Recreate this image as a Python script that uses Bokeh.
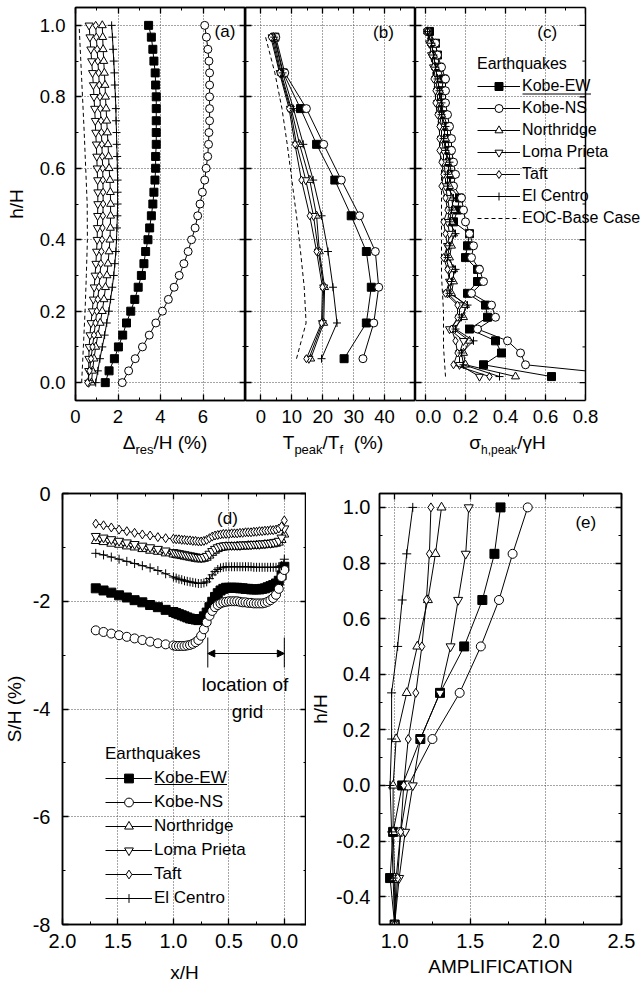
from bokeh.plotting import figure
from bokeh.layouts import row, column
from bokeh.models import (Range1d, LinearAxis, FixedTicker, PrintfTickFormatter,
                          CustomJSTickFormatter, CustomLabelingPolicy, Label, Legend,
                          LegendItem, Arrow, NormalHead, BoxAnnotation, Span, Div, Spacer)
from bokeh.embed import file_html
from bokeh.resources import INLINE

FONT = "Liberation Sans"

# ----------------------------------------------------------------- data
quakes = ["Kobe-EW", "Kobe-NS", "Northridge", "Loma Prieta", "Taft", "El Centro"]
markers = {"Kobe-EW": "square", "Kobe-NS": "circle", "Northridge": "triangle",
           "Loma Prieta": "inverted_triangle", "Taft": "diamond", "El Centro": "cross"}

# (a) residual wall displacement  Delta_res/H (%) against height h/H
h_a = [0.000, 0.033, 0.067, 0.100, 0.133, 0.167, 0.200, 0.233, 0.267, 0.300, 0.333,
       0.367, 0.400, 0.433, 0.467, 0.500, 0.533, 0.567, 0.600, 0.633, 0.667, 0.700,
       0.733, 0.767, 0.800, 0.833, 0.867, 0.900, 0.933, 0.967, 1.000]
a_kobe_ew = [1.40, 1.58, 1.83, 2.02, 2.22, 2.40, 2.60, 2.79, 2.95, 3.10, 3.22, 3.30, 3.41,
             3.49, 3.57, 3.64, 3.69, 3.74, 3.77, 3.77, 3.80, 3.80, 3.80, 3.80, 3.80, 3.77,
             3.75, 3.69, 3.64, 3.57, 3.44]
a_kobe_ns = [2.20, 2.50, 2.81, 3.15, 3.47, 3.78, 4.09, 4.37, 4.64, 4.88, 5.10, 5.30, 5.46,
             5.63, 5.75, 5.86, 5.97, 6.08, 6.15, 6.22, 6.26, 6.28, 6.31, 6.31, 6.31, 6.31,
             6.31, 6.28, 6.23, 6.16, 6.08]
a_northridge = [0.75, 0.80, 0.87, 0.95, 1.05, 1.16, 1.26, 1.34, 1.41, 1.48, 1.53, 1.58, 1.62,
                1.64, 1.65, 1.65, 1.64, 1.62, 1.58, 1.56, 1.53, 1.50, 1.47, 1.44, 1.41, 1.39,
                1.36, 1.33, 1.30, 1.28, 1.26]
a_loma = [0.62, 0.62, 0.63, 0.64, 0.68, 0.73, 0.79, 0.84, 0.88, 0.92, 0.96, 0.99, 1.02,
          1.03, 1.04, 1.05, 1.05, 1.04, 1.02, 1.00, 0.98, 0.95, 0.93, 0.90, 0.87, 0.84,
          0.80, 0.76, 0.72, 0.68, 0.64]
a_taft = [0.56, 0.66, 0.73, 0.80, 0.87, 0.94, 1.00, 1.05, 1.10, 1.15, 1.19, 1.22, 1.25,
          1.27, 1.29, 1.30, 1.30, 1.29, 1.28, 1.26, 1.24, 1.22, 1.20, 1.17, 1.15, 1.12,
          1.09, 1.05, 1.02, 0.98, 0.95]
a_elcentro = [0.95, 1.05, 1.15, 1.26, 1.37, 1.47, 1.57, 1.65, 1.73, 1.80, 1.85, 1.90, 1.93,
              1.95, 1.97, 1.98, 1.98, 1.98, 1.97, 1.96, 1.94, 1.93, 1.91, 1.90, 1.88, 1.85,
              1.83, 1.80, 1.77, 1.74, 1.70]
h_a_eoc = [0.0, 0.1, 0.2, 0.3, 0.4, 0.5, 0.6, 0.7, 0.8, 0.9, 1.0]
a_eoc = [0.29, 0.37, 0.45, 0.51, 0.56, 0.55, 0.48, 0.41, 0.33, 0.25, 0.17]

# (b) peak reinforcement load  T_peak/T_f (%)
h_b = [0.067, 0.167, 0.267, 0.367, 0.467, 0.567, 0.667, 0.767, 0.867, 0.967]
b_kobe_ew = [26.9, 34.1, 35.7, 34.1, 29.2, 23.9, 18.0, 12.8, 7.2, 4.5]
b_kobe_ns = [33.0, 36.5, 38.1, 37.0, 31.9, 26.0, 20.3, 14.7, 7.7, 4.8]
b_northridge = [16.1, 20.3, 20.6, 18.9, 18.0, 15.8, 12.5, 9.8, 6.5, 4.0]
b_loma = [15.5, 19.9, 20.3, 18.6, 17.0, 14.5, 11.5, 9.5, 6.2, 3.6]
b_taft = [14.7, 19.6, 19.9, 18.0, 15.8, 13.1, 11.0, 9.1, 6.0, 3.2]
b_elcentro = [19.6, 24.6, 23.3, 21.7, 19.6, 16.9, 13.7, 10.5, 7.0, 4.3]
b_eoc = [11.5, 14.6, 14.0, 12.8, 11.5, 10.0, 8.5, 6.8, 4.5, 1.5]

# (c) peak horizontal earth pressure  sigma_h,peak / gamma H
h_c = [0.017, 0.050, 0.083, 0.117, 0.150, 0.183, 0.217, 0.250, 0.283, 0.317,
       0.350, 0.383, 0.417, 0.450, 0.483, 0.517, 0.550, 0.583, 0.617, 0.650,
       0.683, 0.717, 0.750, 0.783, 0.817, 0.850, 0.883, 0.917, 0.950, 0.983]
c_kobe_ew = [0.63, 0.29, 0.38, 0.35, 0.22, 0.31, 0.30, 0.21, 0.26, 0.26, 0.20, 0.21, 0.22,
             0.14, 0.16, 0.17, 0.12, 0.13, 0.12, 0.12, 0.11, 0.11, 0.09, 0.08, 0.08, 0.09,
             0.07, 0.06, 0.05, 0.02]
c_kobe_ns = [1.08, 0.50, 0.475, 0.41, 0.26, 0.35, 0.33, 0.23, 0.29, 0.27, 0.23, 0.24, 0.22,
             0.20, 0.19, 0.18, 0.14, 0.15, 0.14, 0.13, 0.13, 0.12, 0.11, 0.10, 0.10, 0.10,
             0.08, 0.06, 0.05, 0.01]
c_northridge = [0.45, 0.20, 0.19, 0.22, 0.14, 0.19, 0.20, 0.13, 0.14, 0.14, 0.12, 0.13, 0.14,
                0.13, 0.14, 0.13, 0.12, 0.12, 0.11, 0.10, 0.10, 0.09, 0.08, 0.07, 0.07, 0.06,
                0.05, 0.04, 0.03, 0.01]
c_loma = [0.27, 0.17, 0.17, 0.19, 0.12, 0.17, 0.17, 0.11, 0.12, 0.12, 0.10, 0.11, 0.12,
          0.11, 0.12, 0.11, 0.10, 0.10, 0.09, 0.09, 0.08, 0.08, 0.07, 0.06, 0.06, 0.05,
          0.04, 0.03, 0.02, 0.01]
c_taft = [0.32, 0.14, 0.16, 0.15, 0.13, 0.16, 0.16, 0.10, 0.12, 0.11, 0.09, 0.11, 0.10,
          0.09, 0.11, 0.10, 0.08, 0.09, 0.08, 0.07, 0.07, 0.07, 0.06, 0.05, 0.05, 0.04,
          0.04, 0.03, 0.02, 0.01]
c_elcentro = [0.37, 0.19, 0.18, 0.24, 0.15, 0.18, 0.21, 0.12, 0.13, 0.15, 0.11, 0.12, 0.15,
              0.12, 0.13, 0.14, 0.11, 0.11, 0.12, 0.10, 0.09, 0.10, 0.08, 0.08, 0.07, 0.06,
              0.05, 0.04, 0.03, 0.01]
h_c_eoc = [0.017, 0.1, 0.2, 0.3, 0.4, 0.5, 0.6, 0.7, 0.8, 0.9, 0.983]
c_eoc = [0.10, 0.09, 0.09, 0.08, 0.08, 0.08, 0.08, 0.07, 0.05, 0.03, 0.005]

# (d) backfill surface settlement  S/H (%) against distance behind the wall x/H
x_d = [1.70, 1.63, 1.56, 1.49, 1.42, 1.35, 1.28, 1.21, 1.14, 1.07, 1.00,
       0.975, 0.950, 0.925, 0.900, 0.875, 0.850, 0.825, 0.800, 0.775, 0.750,
       0.725, 0.700, 0.675, 0.650, 0.625, 0.600, 0.575, 0.550, 0.525, 0.500,
       0.475, 0.450, 0.425, 0.400, 0.375, 0.350, 0.325, 0.300, 0.275, 0.250,
       0.225, 0.200, 0.175, 0.150, 0.125, 0.100, 0.075, 0.050, 0.025, 0.000]
d_kobe_ew = [-1.76, -1.80, -1.84, -1.89, -1.93, -1.98, -2.02, -2.07, -2.11, -2.16, -2.20,
             -2.22, -2.24, -2.26, -2.28, -2.30, -2.32, -2.33, -2.34, -2.35, -2.33,
             -2.28, -2.21, -2.11, -2.01, -1.92, -1.85, -1.80, -1.77, -1.75, -1.75,
             -1.75, -1.75, -1.75, -1.76, -1.76, -1.77, -1.77, -1.78, -1.78, -1.78,
             -1.78, -1.77, -1.76, -1.74, -1.72, -1.70, -1.67, -1.62, -1.52, -1.36]
d_kobe_ns = [-2.54, -2.57, -2.60, -2.63, -2.66, -2.69, -2.72, -2.75, -2.78, -2.80, -2.82,
             -2.83, -2.83, -2.83, -2.83, -2.82, -2.81, -2.79, -2.76, -2.72, -2.64,
             -2.52, -2.39, -2.27, -2.18, -2.11, -2.07, -2.04, -2.02, -2.01, -2.00,
             -2.00, -2.00, -2.00, -2.01, -2.02, -2.02, -2.03, -2.03, -2.04, -2.04,
             -2.04, -2.04, -2.03, -2.01, -1.98, -1.94, -1.88, -1.77, -1.55, -1.42]
d_northridge = [-0.88, -0.90, -0.93, -0.95, -0.98, -1.00, -1.03, -1.06, -1.08, -1.11, -1.13,
                -1.14, -1.15, -1.16, -1.17, -1.18, -1.19, -1.20, -1.21, -1.22, -1.22,
                -1.21, -1.19, -1.15, -1.10, -1.06, -1.03, -1.01, -1.00, -0.99, -0.99,
                -0.99, -0.99, -0.98, -0.98, -0.98, -0.98, -0.97, -0.97, -0.97, -0.96,
                -0.96, -0.96, -0.95, -0.95, -0.94, -0.94, -0.93, -0.91, -0.86, -0.76]
d_loma = [-0.79, -0.82, -0.85, -0.88, -0.91, -0.94, -0.97, -1.00, -1.03, -1.06, -1.09,
          -1.10, -1.11, -1.12, -1.13, -1.14, -1.15, -1.16, -1.17, -1.18, -1.19,
          -1.18, -1.16, -1.12, -1.07, -1.03, -1.00, -0.98, -0.97, -0.96, -0.96,
          -0.96, -0.96, -0.96, -0.96, -0.95, -0.95, -0.95, -0.95, -0.94, -0.94,
          -0.94, -0.93, -0.93, -0.92, -0.92, -0.91, -0.90, -0.88, -0.82, -0.65]
d_taft = [-0.56, -0.59, -0.63, -0.67, -0.70, -0.73, -0.76, -0.78, -0.81, -0.83, -0.84,
          -0.85, -0.85, -0.86, -0.86, -0.87, -0.87, -0.88, -0.88, -0.89, -0.89,
          -0.88, -0.86, -0.83, -0.80, -0.78, -0.77, -0.76, -0.75, -0.75, -0.75,
          -0.74, -0.74, -0.74, -0.73, -0.73, -0.72, -0.72, -0.72, -0.71, -0.71,
          -0.70, -0.70, -0.69, -0.69, -0.68, -0.68, -0.67, -0.65, -0.61, -0.50]
d_elcentro = [-1.11, -1.14, -1.18, -1.22, -1.26, -1.30, -1.34, -1.38, -1.43, -1.49, -1.55,
              -1.57, -1.59, -1.60, -1.62, -1.63, -1.64, -1.65, -1.66, -1.67, -1.67,
              -1.66, -1.64, -1.58, -1.51, -1.45, -1.41, -1.38, -1.37, -1.36, -1.36,
              -1.36, -1.36, -1.36, -1.36, -1.36, -1.36, -1.36, -1.36, -1.37, -1.37,
              -1.37, -1.37, -1.37, -1.37, -1.37, -1.37, -1.37, -1.36, -1.34, -1.22]
grid_zone = [0.69, 0.0]          # x/H extent of the reinforced zone

# (e) acceleration amplification against h/H
h_e = [1.0, 0.833, 0.667, 0.5, 0.333, 0.167, 0.0, -0.167, -0.333, -0.5]
e_kobe_ew = [1.70, 1.66, 1.58, 1.46, 1.30, 1.17, 1.05, 0.99, 0.97, 1.00]
e_kobe_ns = [1.88, 1.78, 1.69, 1.57, 1.43, 1.25, 1.09, 1.04, 1.01, 1.00]
e_northridge = [1.31, 1.27, 1.22, 1.15, 1.08, 1.01, 0.99, 0.99, 1.00, 1.00]
e_loma = [1.49, 1.47, 1.42, 1.37, 1.30, 1.17, 1.12, 1.07, 1.03, 1.00]
e_taft = [1.24, 1.23, 1.21, 1.18, 1.14, 1.09, 1.06, 1.04, 1.02, 1.00]
e_elcentro = [1.12, 1.08, 1.05, 1.02, 0.98, 0.98, 0.97, 0.98, 0.99, 1.00]

series_a = dict(zip(quakes, [a_kobe_ew, a_kobe_ns, a_northridge, a_loma, a_taft, a_elcentro]))
series_b = dict(zip(quakes, [b_kobe_ew, b_kobe_ns, b_northridge, b_loma, b_taft, b_elcentro]))
series_c = dict(zip(quakes, [c_kobe_ew, c_kobe_ns, c_northridge, c_loma, c_taft, c_elcentro]))
series_d = dict(zip(quakes, [d_kobe_ew, d_kobe_ns, d_northridge, d_loma, d_taft, d_elcentro]))
series_e = dict(zip(quakes, [e_kobe_ew, e_kobe_ns, e_northridge, e_loma, e_taft, e_elcentro]))

# ----------------------------------------------------------------- layout geometry (px)
TOP_T, TOP_FH, TOP_B = 7, 393, 32
LABEL_ROW = 28
A_L, FW = 75, 170
C_FW = 226                        # panel (c) frame runs to the page edge; its box stops at 0.8
BOT_T, BOT_FH, BOT_B = 33, 431, 66
D_L, D_FW = 60, 244
E_L, E_FW, E_R = 73, 242, 22
TOP_H = TOP_T + TOP_FH + TOP_B + LABEL_ROW

YR_TOP = (-0.05, 1.05)


def px_to_x(xr, left, width, px):
    return xr[0] + (px - left) / width * (xr[1] - xr[0])


def py_to_y(yr, top, height, py):
    return yr[1] - (py - top) / height * (yr[1] - yr[0])


def make_panel(xr, yr, fw, fh, left, right, top, bottom):
    p = figure(x_range=Range1d(*xr), y_range=Range1d(*yr), frame_width=fw, frame_height=fh,
               min_border_left=left, min_border_right=right, min_border_top=top,
               min_border_bottom=bottom, toolbar_location=None, output_backend="svg",
               background_fill_color="white", border_fill_color="white")
    p.outline_line_color = "black"
    p.outline_line_width = 1.5
    return p


def hide_labels(ax):
    ax.formatter = CustomJSTickFormatter(code="return ''")
    ax.major_label_policy = CustomLabelingPolicy(
        code="for (const i of indices) { indices.unset(i) }\nreturn indices")
    ax.major_label_text_font_size = "1px"
    ax.major_label_standoff = 0


def style_axis(ax):
    ax.axis_line_color = "black"
    ax.axis_line_width = 1.5
    ax.major_tick_in, ax.major_tick_out = 6, 0
    ax.minor_tick_in, ax.minor_tick_out = 3, 0
    ax.major_tick_line_color = "black"
    ax.minor_tick_line_color = "black"
    ax.major_tick_line_width = 1.3
    ax.minor_tick_line_width = 1.0
    ax.major_label_text_font = FONT
    ax.major_label_text_color = "black"
    ax.axis_label_text_font = FONT
    ax.axis_label_text_font_style = "normal"
    ax.axis_label_text_color = "black"
    ax.axis_label_text_font_size = "19px"


def style_axes(p, xticks, xminor, yticks, yminor, xfmt, yfmt, show_x, show_y, tick_px,
               x_standoff=9, y_standoff=10, right_axis=True, x_bounds="auto"):
    xt = FixedTicker(ticks=xticks, minor_ticks=xminor)
    yt = FixedTicker(ticks=yticks, minor_ticks=yminor)
    xa, ya = p.below[0], p.left[0]
    xa.ticker, ya.ticker = xt, yt
    xa.formatter = PrintfTickFormatter(format=xfmt)
    ya.formatter = PrintfTickFormatter(format=yfmt)
    top_ax = LinearAxis(ticker=xt)
    p.add_layout(top_ax, "above")
    axes = [(xa, show_x, x_standoff), (ya, show_y, y_standoff), (top_ax, False, 0)]
    if right_axis:
        right_ax = LinearAxis(ticker=yt)
        p.add_layout(right_ax, "right")
        axes.append((right_ax, False, 0))
    for ax, show, so in axes:
        style_axis(ax)
        if show:
            ax.major_label_text_font_size = tick_px
            ax.major_label_standoff = so
        else:
            hide_labels(ax)
    xa.bounds = x_bounds
    top_ax.bounds = x_bounds
    for g, t in ((p.xgrid[0], xt), (p.ygrid[0], yt)):
        g.ticker = t
        g.grid_line_color = "#4a4a4a"
        g.grid_line_dash = "1 2"
        g.grid_line_width = 1
    return xa, ya


def draw(p, xs, ys, name, size):
    ln = p.line(xs, ys, line_color="black", line_width=1)
    fill = "black" if name == "Kobe-EW" else "white"
    sc = p.scatter(xs, ys, marker=markers[name], size=size, fill_color=fill,
                   line_color="black", line_width=1)
    return [ln, sc]


def text(p, x, y, s, size, align="left", baseline="alphabetic"):
    p.add_layout(Label(x=x, y=y, text=s, text_font=FONT, text_font_size=size,
                       text_color="black", text_align=align, text_baseline=baseline))


def underline(p, x0, x1, y):
    p.add_layout(Arrow(x_start=x0, y_start=y, x_end=x1, y_end=y, start=None, end=None,
                       line_color="black", line_width=1))


def legend(p, pairs, loc, glyph_w, item_h, font_px):
    items = [LegendItem(label=lab, renderers=rs) for lab, rs in pairs]
    lg = Legend(items=items, location=loc, title="Earthquakes",
                title_text_font=FONT, title_text_font_size=font_px,
                title_text_font_style="normal", title_text_color="black", title_standoff=3,
                label_text_font=FONT, label_text_font_size=font_px, label_text_color="black",
                label_standoff=2, glyph_width=glyph_w, glyph_height=item_h - 2,
                label_height=item_h - 2, spacing=2, padding=0, margin=0,
                border_line_alpha=0, background_fill_alpha=0)
    p.add_layout(lg)


TOPTICK = "18.5px"
BOTTICK = "20px"
h_ticks = [0.0, 0.2, 0.4, 0.6, 0.8, 1.0]
h_minor = [0.1, 0.3, 0.5, 0.7, 0.9]
fyt = lambda py: py_to_y(YR_TOP, TOP_T, TOP_FH, py)

# ----------------------------------------------------------------- (a)
XR_A = (0, 8)
pa = make_panel(XR_A, YR_TOP, FW, TOP_FH, A_L, 0, TOP_T, TOP_B)
xa, ya = style_axes(pa, [0, 2, 4, 6], [1, 3, 5, 7], h_ticks, h_minor, "%d", "%.1f",
                    True, True, TOPTICK)
ya.axis_label = "h/H"
ya.axis_label_standoff = 10
pa.line(a_eoc, h_a_eoc, line_color="black", line_width=1, line_dash="4 3")
for q in quakes:
    draw(pa, series_a[q], h_a, q, 8)
fxa = lambda px: px_to_x(XR_A, A_L, FW, px)
text(pa, fxa(224.5), fyt(31), "(a)", "17px", "center", "middle")

# ----------------------------------------------------------------- (b)
XR_B = (-5, 50)
pb = make_panel(XR_B, YR_TOP, FW, TOP_FH, 0, 0, TOP_T, TOP_B)
style_axes(pb, [0, 10, 20, 30, 40], [5, 15, 25, 35, 45], h_ticks, h_minor, "%d", "%.1f",
           True, False, TOPTICK)
pb.line(b_eoc, h_b, line_color="black", line_width=1, line_dash="4 3")
for q in quakes:
    draw(pb, series_b[q], h_b, q, 8)
fxb = lambda px: px_to_x(XR_B, A_L + FW, FW, px)
text(pb, fxb(383), fyt(32), "(b)", "17px", "center", "middle")

# ----------------------------------------------------------------- (c)
C_MAX = 0.8
XR_C = (-0.05, -0.05 + C_FW / 200.0)
pc = make_panel(XR_C, YR_TOP, C_FW, TOP_FH, 0, 0, TOP_T, TOP_B)
pc.outline_line_color = None
style_axes(pc, [0.0, 0.2, 0.4, 0.6, 0.8], [0.1, 0.3, 0.5, 0.7], h_ticks, h_minor,
           "%.1f", "%.1f", True, False, TOPTICK, right_axis=False, x_bounds=(XR_C[0], C_MAX))
eoc_c = pc.line(c_eoc, h_c_eoc, line_color="black", line_width=1, line_dash="4 3")
rend_c = {}
for q in quakes:
    rend_c[q] = draw(pc, series_c[q], h_c, q, 8)
# right edge of the (c) box with its inward ticks
pc.segment(x0=[C_MAX - 0.03] * len(h_ticks), y0=h_ticks, x1=[C_MAX] * len(h_ticks),
           y1=h_ticks, line_color="black", line_width=1.3)
pc.segment(x0=[C_MAX - 0.015] * len(h_minor), y0=h_minor, x1=[C_MAX] * len(h_minor),
           y1=h_minor, line_color="black", line_width=1.0)
pc.add_layout(BoxAnnotation(left=C_MAX, fill_color="white", fill_alpha=1.0,
                            line_color=None, level="annotation"))
pc.add_layout(Span(location=C_MAX, dimension="height", line_color="black", line_width=1.5))
fxc = lambda px: px_to_x(XR_C, A_L + 2 * FW, C_FW, px)
text(pc, fxc(546.7), fyt(32), "(c)", "17px", "center", "middle")
legend(pc, [(q, rend_c[q]) for q in quakes] + [("EOC-Base Case", [eoc_c])],
       (62, 172), 43, 22, "16px")
underline(pc, fxc(522), fxc(590.5), fyt(93.5))

# axis titles with subscripts for the top row
lab_style = {"font-family": FONT, "font-size": "19px", "color": "black",
             "text-align": "center", "line-height": "1.2", "white-space": "nowrap"}
sub13 = '<sub style="font-size:13px">{}</sub>'
sub12 = '<sub style="font-size:12px">{}</sub>'
div_a = Div(text="\u0394" + sub13.format("res") + "/H (%)", width=160, height=LABEL_ROW,
            margin=0, styles=lab_style)
div_b = Div(text="T" + sub13.format("peak") + "/T" + sub13.format("f") + "&nbsp;&nbsp;(%)",
            width=176, height=LABEL_ROW, margin=0, styles=lab_style)
div_c = Div(text="\u03c3" + sub12.format("h,peak") + "/\u03b3H", width=173,
            height=LABEL_ROW, margin=0, styles=lab_style)
label_row = row(Spacer(width=85, height=LABEL_ROW), div_a, div_b, div_c,
                Spacer(width=47, height=LABEL_ROW))

# ----------------------------------------------------------------- (d)
XR_D = (2.0, -0.2)
YR_D = (-8.0, 0.0)
pd = make_panel(XR_D, YR_D, D_FW, BOT_FH, D_L, 0, BOT_T, BOT_B)
xd, yd = style_axes(pd, [2.0, 1.5, 1.0, 0.5, 0.0], [1.75, 1.25, 0.75, 0.25],
                    [-8, -6, -4, -2, 0], [-7, -5, -3, -1], "%.1f", "%d",
                    True, True, BOTTICK, x_standoff=9, y_standoff=12)
xd.axis_label = "x/H"
xd.axis_label_standoff = 11
yd.axis_label = "S/H (%)"
yd.axis_label_standoff = 5
rend_d = {}
for q in quakes:
    rend_d[q] = draw(pd, x_d, series_d[q], q, 9)
fxd = lambda px: px_to_x(XR_D, D_L, D_FW, px)
fyd = lambda py: py_to_y(YR_D, BOT_T + TOP_H, BOT_FH, py)
text(pd, fxd(225), fyd(518), "(d)", "17px", "center", "middle")
# reinforced zone marker
pd.segment(x0=grid_zone, y0=[fyd(637)] * 2, x1=grid_zone, y1=[fyd(667)] * 2,
           line_color="black", line_width=1)
pd.add_layout(Arrow(x_start=grid_zone[0], y_start=fyd(653), x_end=grid_zone[1],
                    y_end=fyd(653), line_color="black", line_width=1,
                    start=NormalHead(size=7, fill_color="black", line_color="black"),
                    end=NormalHead(size=7, fill_color="black", line_color="black")))
text(pd, fxd(242.5), fyd(684), "location of", "19px", "center", "middle")
text(pd, fxd(245), fyd(711), "grid", "19px", "center", "middle")
legend(pd, [(q, rend_d[q]) for q in quakes], (43, 15), 47, 24, "17px")
underline(pd, fxd(152), fxd(224.5), fyd(784))

# ----------------------------------------------------------------- (e)
XR_E = (0.9, 2.5)
YR_E = (-0.5, 1.05)
pe = make_panel(XR_E, YR_E, E_FW, BOT_FH, E_L, E_R, BOT_T, BOT_B)
xe, ye = style_axes(pe, [1.0, 1.5, 2.0, 2.5], [1.25, 1.75, 2.25],
                    [-0.4, -0.2, 0.0, 0.2, 0.4, 0.6, 0.8, 1.0],
                    [-0.3, -0.1, 0.1, 0.3, 0.5, 0.7, 0.9], "%.1f", "%.1f",
                    True, True, BOTTICK, x_standoff=9, y_standoff=9)
xe.axis_label = "AMPLIFICATION"
xe.axis_label_standoff = 5
ye.axis_label = "h/H"
ye.axis_label_standoff = 2
for q in quakes:
    draw(pe, series_e[q], h_e, q, 9)
fxe = lambda px: px_to_x(XR_E, D_L + D_FW + E_L, E_FW, px)
fye = lambda py: py_to_y(YR_E, BOT_T + TOP_H, BOT_FH, py)
text(pe, fxe(583.3), fye(521.7), "(e)", "17px", "center", "middle")

layout = column(row(pa, pb, pc), label_row, row(pd, pe))
open("out.html", "w").write(file_html(layout, INLINE))
